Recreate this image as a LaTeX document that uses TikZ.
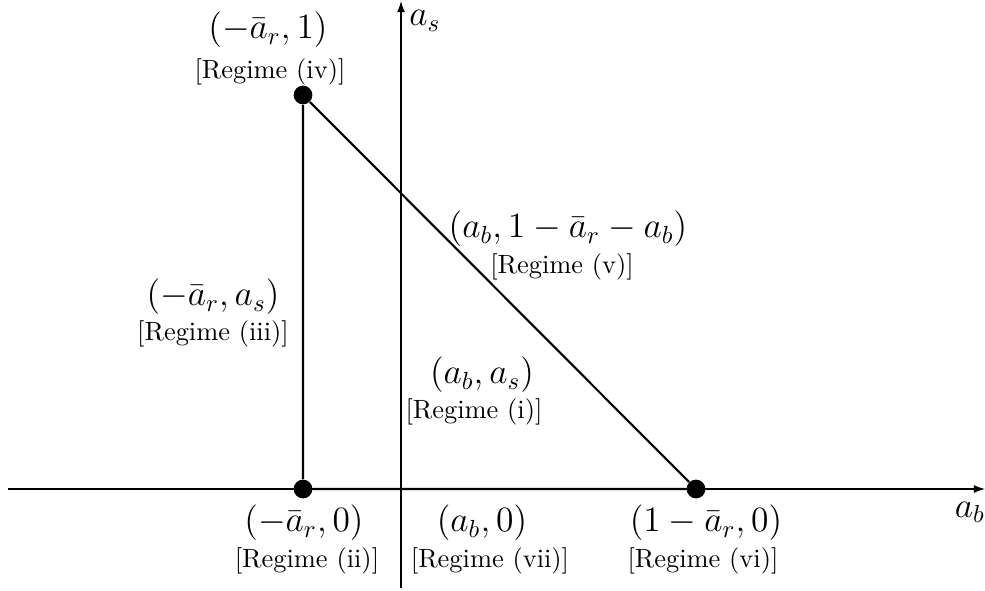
\documentclass[tikz,border=0pt]{standalone}
\usetikzlibrary{arrows.meta}
\begin{document}
\begin{tikzpicture}[x=0.405pt,y=-0.405pt,
  axis/.style={line width=0.45pt,-{Latex[length=4.5pt,width=3.2pt]}},
  edgeline/.style={line width=0.85pt},
  dot/.style={circle,fill=black,inner sep=0pt,minimum size=7.6pt},
  coordlabel/.style={font=\Large,inner sep=0pt},
  regime/.style={font=\fontsize{10.7}{13}\selectfont,inner sep=0pt},
  axislabel/.style={font=\Large,inner sep=0pt}]
\useasboundingbox (0,0) rectangle (985,590);
% axes
\coordinate (xl) at (8,489);
\coordinate (xr) at (985,489);
\coordinate (yb) at (401,588);
\coordinate (yt) at (401,1);
\draw[axis] (xl) -- (xr);
\draw[axis] (yb) -- (yt);
\node[axislabel] (las) at (425,21) {$a_s$};
\node[axislabel] (lab) at (970,512) {$a_b$};
% points
\node[dot] (A) at (303,95) {};
\node[dot] (B) at (303,489) {};
\node[dot] (C) at (696,489) {};
\draw[edgeline] (A) -- (B) -- (C) -- (A);
% labels
\node[coordlabel] (cA) at (268,30) {$(-\bar{a}_r,1)$};
\node[regime] (rA) at (270,72) {[Regime (iv)]};
\node[coordlabel] (cL) at (213,297) {$(-\bar{a}_r,a_s)$};
\node[regime] (rL) at (213,334) {[Regime (iii)]};
\node[coordlabel] (cD) at (568,229) {$(a_b,1-\bar{a}_r-a_b)$};
\node[regime] (rD) at (562,267) {[Regime (v)]};
\node[coordlabel] (cI) at (482,375) {$(a_b,a_s)$};
\node[regime] (rI) at (474,412) {[Regime (i)]};
\node[coordlabel] (cB) at (304,523) {$(-\bar{a}_r,0)$};
\node[regime] (rB) at (307,561) {[Regime (ii)]};
\node[coordlabel] (cM) at (482,523) {$(a_b,0)$};
\node[regime] (rM) at (490,561) {[Regime (vii)]};
\node[coordlabel] (cC) at (706,523) {$(1-\bar{a}_r,0)$};
\node[regime] (rC) at (703,561) {[Regime (vi)]};
\end{tikzpicture}
\end{document}
